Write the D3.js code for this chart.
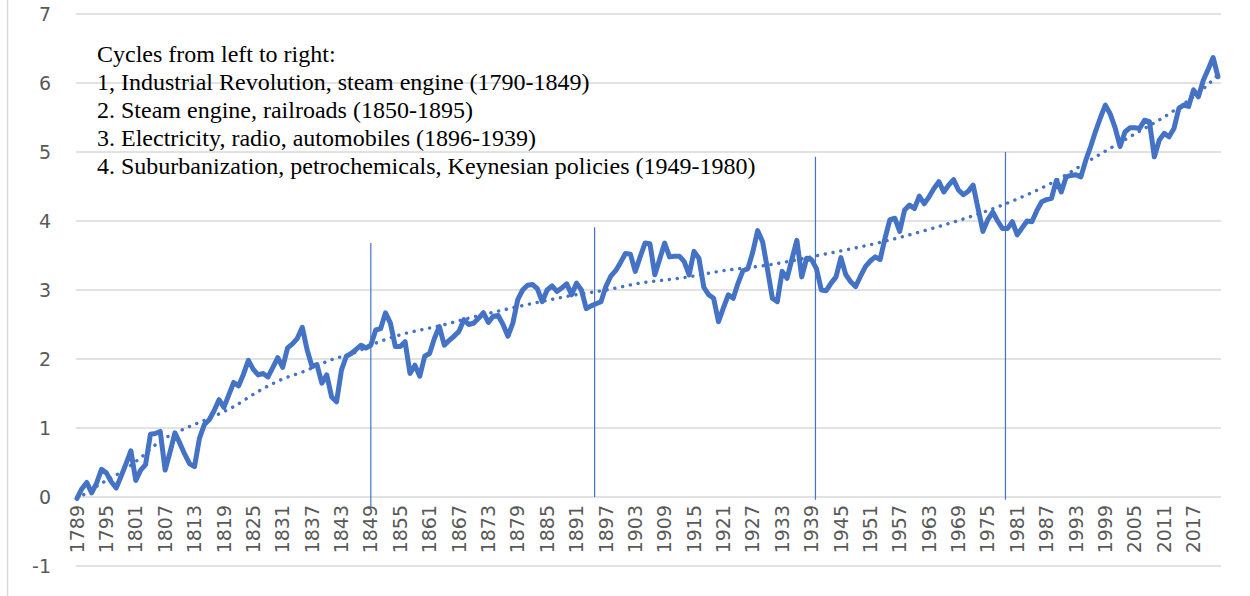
<!DOCTYPE html>
<html>
<head>
<meta charset="utf-8">
<script src="https://cdn.jsdelivr.net/npm/d3@7"></script>
<style>
  html, body { margin: 0; padding: 0; background: #ffffff; }
  svg { display: block; }
</style>
</head>
<body>
<svg id="chart" width="1250" height="596"></svg>
<script>
// ---------- DATA ----------
const firstYear = 1789;
const lastYear = 2022;
const years = d3.range(firstYear, lastYear + 1);

const values = [
  -0.02, 0.12, 0.21, 0.06, 0.20, 0.40, 0.35, 0.22, 0.13, 0.30,   // 1789-1798
  0.48, 0.67, 0.24, 0.39, 0.47, 0.91, 0.92, 0.95, 0.39, 0.65,    // 1799-1808
  0.93, 0.78, 0.62, 0.48, 0.44, 0.85, 1.05, 1.12, 1.25, 1.41,    // 1809-1818
  1.30, 1.48, 1.66, 1.61, 1.78, 1.98, 1.85, 1.77, 1.79, 1.74,    // 1819-1828
  1.88, 2.02, 1.88, 2.16, 2.22, 2.30, 2.46, 2.13, 1.89, 1.92,    // 1829-1838
  1.65, 1.77, 1.45, 1.38, 1.84, 2.04, 2.08, 2.14, 2.20, 2.16,    // 1839-1848
  2.20, 2.42, 2.44, 2.67, 2.52, 2.18, 2.18, 2.25, 1.79, 1.91,    // 1849-1858
  1.75, 2.04, 2.08, 2.30, 2.47, 2.20, 2.27, 2.33, 2.40, 2.57,    // 1859-1868
  2.50, 2.52, 2.59, 2.67, 2.53, 2.62, 2.63, 2.50, 2.33, 2.52,    // 1869-1878
  2.86, 3.00, 3.07, 3.08, 3.02, 2.83, 3.00, 3.06, 2.98, 3.03,    // 1879-1888
  3.09, 2.93, 3.10, 3.00, 2.73, 2.77, 2.80, 2.83, 3.05, 3.20,    // 1889-1898
  3.28, 3.40, 3.53, 3.52, 3.27, 3.48, 3.68, 3.67, 3.22, 3.45,    // 1899-1908
  3.68, 3.48, 3.49, 3.49, 3.41, 3.22, 3.56, 3.46, 3.04, 2.93,    // 1909-1918
  2.88, 2.54, 2.74, 2.93, 2.88, 3.10, 3.28, 3.31, 3.55, 3.86,    // 1919-1928
  3.70, 3.30, 2.88, 2.83, 3.27, 3.17, 3.45, 3.72, 3.19, 3.46,    // 1929-1938
  3.44, 3.31, 3.00, 2.99, 3.10, 3.19, 3.47, 3.22, 3.12, 3.05,    // 1939-1948
  3.20, 3.34, 3.42, 3.48, 3.44, 3.75, 4.02, 4.04, 3.85, 4.16,    // 1949-1958
  4.23, 4.18, 4.36, 4.25, 4.35, 4.47, 4.57, 4.42, 4.52, 4.60,    // 1959-1968
  4.45, 4.38, 4.43, 4.52, 4.18, 3.85, 4.02, 4.13, 4.00, 3.89,    // 1969-1978
  3.89, 3.99, 3.80, 3.90, 4.00, 3.99, 4.15, 4.28, 4.31, 4.33,    // 1979-1988
  4.59, 4.42, 4.64, 4.66, 4.67, 4.64, 4.88, 5.08, 5.30, 5.50,    // 1989-1998
  5.68, 5.55, 5.35, 5.08, 5.29, 5.35, 5.35, 5.34, 5.46, 5.44,    // 1999-2008
  4.93, 5.17, 5.27, 5.22, 5.34, 5.63, 5.68, 5.66, 5.90, 5.80,    // 2009-2018
  6.04, 6.20, 6.37, 6.09                                         // 2019-2022
];

// trend line (dotted)
const trendYears  = [1789, 1795, 1798, 1802, 1806, 1811, 1816, 1821, 1826, 1831, 1835, 1841, 1846, 1850, 1855, 1863, 1870, 1876, 1883, 1890, 1897, 1904, 1913, 1921, 1930, 1941, 1953, 1964, 1973, 1979, 1988, 1997, 2004, 2013, 2020, 2022];
const trendValues = [-0.03, 0.24, 0.36, 0.57, 0.81, 0.99, 1.14, 1.31, 1.53, 1.71, 1.81, 1.99, 2.10, 2.23, 2.35, 2.48, 2.61, 2.71, 2.82, 2.92, 3.00, 3.10, 3.18, 3.28, 3.36, 3.51, 3.69, 3.90, 4.10, 4.26, 4.55, 4.93, 5.22, 5.60, 5.98, 6.12];

// cycle boundary markers
const cycleYears = [1849, 1894.7, 1939.8, 1978.6];
const cycleTops  = [3.68, 3.91, 4.93, 5.00];
const cycleBottoms = [-0.13, 0.0, -0.04, -0.04];

const tickLabels = ["1789","1795","1801","1807","1813","1819","1825","1831","1837","1843",
  "1849","1855","1861","1867","1873","1879","1885","1891","1897","1903","1909","1915",
  "1921","1927","1933","1939","1945","1951","1957","1963","1969","1975","1981","1987",
  "1993","1999","2005","2011","2017"];
const yTicks = [-1, 0, 1, 2, 3, 4, 5, 6, 7];

const annotationLines = [
  "Cycles from left to right:",
  "1, Industrial Revolution, steam engine (1790-1849)",
  "2. Steam engine, railroads (1850-1895)",
  "3. Electricity, radio, automobiles (1896-1939)",
  "4. Suburbanization, petrochemicals, Keynesian policies (1949-1980)"
];

// ---------- CHART ----------
const svg = d3.select("#chart");
const blue = "#4472C4";

const x = d3.scaleLinear().domain([firstYear, lastYear]).range([77, 1218]);
const y = d3.scaleLinear().domain([-1, 7]).range([566, 14]);

// chart border on the left
svg.append("line").attr("x1", 7.5).attr("x2", 7.5).attr("y1", 0).attr("y2", 596)
  .attr("stroke", "#d9d9d9").attr("stroke-width", 1.5);

// gridlines
svg.append("g").selectAll("line").data(yTicks).join("line")
  .attr("x1", x(firstYear) - 1).attr("x2", x(lastYear) + 3)
  .attr("y1", d => y(d)).attr("y2", d => y(d))
  .attr("stroke", "#d9d9d9").attr("stroke-width", 1.6);

// y tick labels
svg.append("g").selectAll("text").data(yTicks).join("text")
  .attr("x", 51).attr("y", d => y(d))
  .attr("dy", "0.35em")
  .attr("text-anchor", "end")
  .attr("font-family", "DejaVu Sans, sans-serif")
  .attr("font-size", 19)
  .attr("fill", "#595959")
  .text(d => d);

// x tick labels (rotated)
svg.append("g").selectAll("text").data(tickLabels).join("text")
  .attr("transform", d => `translate(${x(+d)},505) rotate(-90)`)
  .attr("dy", "0.35em")
  .attr("text-anchor", "end")
  .attr("font-family", "DejaVu Sans, sans-serif")
  .attr("font-size", 19)
  .attr("fill", "#595959")
  .text(d => d);

// cycle lines
svg.append("g").selectAll("line").data(cycleYears).join("line")
  .attr("x1", d => x(d)).attr("x2", d => x(d))
  .attr("y1", (d, i) => y(cycleTops[i])).attr("y2", (d, i) => y(cycleBottoms[i]))
  .attr("stroke", blue).attr("stroke-width", 1.2);

// trend line
const trendLine = d3.line()
  .x((d, i) => x(trendYears[i]))
  .y(d => y(d))
  .curve(d3.curveMonotoneX);
svg.append("path").datum(trendValues)
  .attr("d", trendLine)
  .attr("fill", "none")
  .attr("stroke", blue)
  .attr("stroke-width", 3.4)
  .attr("stroke-linecap", "round")
  .attr("stroke-dasharray", "0.1 7.8");

// data line
const line = d3.line()
  .x((d, i) => x(years[i]))
  .y(d => y(d));
svg.append("path").datum(values)
  .attr("d", line)
  .attr("fill", "none")
  .attr("stroke", blue)
  .attr("stroke-width", 5)
  .attr("stroke-linejoin", "round")
  .attr("stroke-linecap", "round");

// annotation text
svg.append("g").selectAll("text").data(annotationLines).join("text")
  .attr("x", 97)
  .attr("y", (d, i) => 54 + i * 27.8)
  .attr("dy", "0.35em")
  .attr("font-family", "Liberation Serif, Times New Roman, serif")
  .attr("font-size", 24)
  .attr("fill", "#000000")
  .text(d => d);
</script>
</body>
</html>
